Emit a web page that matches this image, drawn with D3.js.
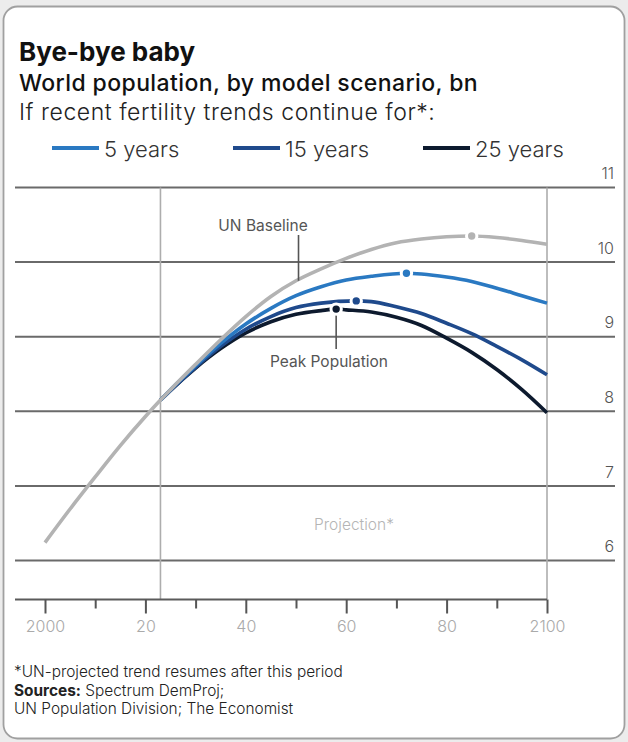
<!DOCTYPE html>
<html>
<head>
<meta charset="utf-8">
<script src="https://cdn.jsdelivr.net/npm/d3@7"></script>
<style>
  html, body { margin: 0; padding: 0; background: #ececec; }
  svg { display: block; font-family: Inter, "Noto Sans", sans-serif; }
</style>
</head>
<body>
<svg id="chart" width="628" height="742"></svg>
<script>
// World population (bn) by scenario
const years = [2000, 2005, 2010, 2015, 2020, 2023, 2025, 2030, 2035, 2040, 2045, 2050, 2055, 2060, 2065, 2070, 2075, 2080, 2085, 2090, 2095, 2100];
const unBaseline = [6.24, 6.69, 7.12, 7.54, 7.93, 8.15, 8.29, 8.63, 8.96, 9.27, 9.54, 9.75, 9.91, 10.05, 10.17, 10.26, 10.31, 10.34, 10.35, 10.33, 10.29, 10.24];

const scenarioYears5 = [2023, 2025, 2030, 2035, 2040, 2045, 2050, 2055, 2060, 2065, 2072, 2075, 2080, 2085, 2090, 2095, 2100];
const years5 = [8.15, 8.29, 8.61, 8.91, 9.17, 9.38, 9.55, 9.67, 9.76, 9.81, 9.85, 9.84, 9.80, 9.74, 9.65, 9.55, 9.45];

const scenarioYears15 = [2023, 2025, 2030, 2035, 2040, 2045, 2050, 2055, 2062, 2065, 2070, 2075, 2080, 2085, 2090, 2095, 2100];
const years15 = [8.15, 8.28, 8.59, 8.87, 9.10, 9.27, 9.39, 9.45, 9.48, 9.47, 9.40, 9.31, 9.18, 9.04, 8.87, 8.69, 8.49];

const scenarioYears25 = [2023, 2025, 2030, 2035, 2040, 2045, 2050, 2055, 2058, 2060, 2065, 2070, 2075, 2080, 2085, 2090, 2095, 2100];
const years25 = [8.15, 8.28, 8.58, 8.84, 9.05, 9.20, 9.30, 9.35, 9.37, 9.36, 9.33, 9.26, 9.15, 8.98, 8.79, 8.56, 8.29, 7.98];

// Peak years and values
const peakYears = [2085, 2072, 2062, 2058];
const peakValues = [10.35, 9.85, 9.48, 9.37];

const yTicks = [6, 7, 8, 9, 10, 11];
const xTicks = [2000, 2010, 2020, 2030, 2040, 2050, 2060, 2070, 2080, 2090, 2100];
const xTickLabels = ["2000", "", "20", "", "40", "", "60", "", "80", "", "2100"];
const legendLabels = ["5 years", "15 years", "25 years"];
const projectionStart = 2023;

const colors = { un: "#b3b3b3", y5: "#2a79c2", y15: "#1f4a8c", y25: "#0d1a2e" };

const svg = d3.select("#chart");

// Card
svg.append("rect")
  .attr("x", 3.5).attr("y", 6.5).attr("width", 621).attr("height", 732)
  .attr("rx", 14).attr("fill", "#fff").attr("stroke", "#a0a0a0").attr("stroke-width", 1.8);

// Titles
svg.append("text").attr("x", 19).attr("y", 61)
  .attr("font-size", 26).attr("font-weight", 700).attr("fill", "#111")
  .text("Bye-bye baby");
svg.append("text").attr("x", 19).attr("y", 90.5)
  .attr("font-size", 23).attr("font-weight", 500).attr("letter-spacing", 0.4).attr("fill", "#111")
  .text("World population, by model scenario, bn");
svg.append("text").attr("x", 19).attr("y", 120)
  .attr("font-size", 23).attr("font-weight", 300).attr("letter-spacing", 0.55).attr("fill", "#222")
  .text("If recent fertility trends continue for*:");

// Legend
const legendX = [52, 233, 423];
const legendColors = [colors.y5, colors.y15, colors.y25];
legendLabels.forEach((lab, i) => {
  svg.append("line")
    .attr("x1", legendX[i]).attr("x2", legendX[i] + 47)
    .attr("y1", 148).attr("y2", 148)
    .attr("stroke", legendColors[i]).attr("stroke-width", 4);
  svg.append("text")
    .attr("x", legendX[i] + 52).attr("y", 157)
    .attr("font-size", 22).attr("font-weight", 300).attr("fill", "#333")
    .text(lab);
});

// Scales
const x = d3.scaleLinear().domain([2000, 2100]).range([45, 547]);
const y = d3.scaleLinear().domain([6, 11]).range([560.5, 187.5]);
const plotBottom = 599.5;
const gridLeft = 15, gridRight = 615;

// Horizontal gridlines with right-side labels
const gy = svg.append("g");
yTicks.forEach(v => {
  gy.append("line")
    .attr("x1", gridLeft).attr("x2", gridRight)
    .attr("y1", y(v)).attr("y2", y(v))
    .attr("stroke", "#6a6a6a").attr("stroke-width", 2);
});
const gridAxis = d3.axisRight(y).tickValues(yTicks).tickSize(0).tickFormat(d3.format("d"));
const gyl = svg.append("g").attr("transform", `translate(${gridRight - 1},0)`).call(gridAxis);
gyl.select(".domain").remove();
gyl.selectAll("text")
  .attr("x", 0).attr("dy", "-0.55em")
  .attr("text-anchor", "end")
  .attr("font-family", "Inter, sans-serif")
  .attr("font-size", 16).attr("font-weight", 300).attr("fill", "#555");

// Vertical marker lines: start of projection and end
[projectionStart, 2100].forEach(yr => {
  svg.append("line")
    .attr("x1", x(yr)).attr("x2", x(yr))
    .attr("y1", y(11)).attr("y2", plotBottom)
    .attr("stroke", "#adadad").attr("stroke-width", 1.6);
});

// Bottom axis
svg.append("line")
  .attr("x1", gridLeft).attr("x2", x(2100))
  .attr("y1", plotBottom).attr("y2", plotBottom)
  .attr("stroke", "#5a5a5a").attr("stroke-width", 2);
const xAxis = d3.axisBottom(x).tickValues(xTicks).tickSize(0).tickFormat((d, i) => xTickLabels[i]);
const gx = svg.append("g").attr("transform", `translate(0,${plotBottom})`).call(xAxis);
gx.select(".domain").remove();
gx.selectAll(".tick").each(function(d, i) {
  d3.select(this).append("line")
    .attr("y1", 0).attr("y2", xTickLabels[i] ? 14 : 9)
    .attr("stroke", "#555").attr("stroke-width", 2);
});
gx.selectAll("text")
  .attr("y", 32).attr("dy", 0)
  .attr("font-family", "Inter, sans-serif")
  .attr("font-size", 16).attr("font-weight", 300).attr("fill", "#aaa");

// Projection label
svg.append("text")
  .attr("x", 354).attr("y", 530)
  .attr("text-anchor", "middle")
  .attr("font-size", 15.5).attr("font-weight", 300).attr("fill", "#b5b5b5")
  .text("Projection*");

// Lines
const line = d3.line().x(d => x(d[0])).y(d => y(d[1])).curve(d3.curveMonotoneX);
const series = [
  { key: "y25", yrs: scenarioYears25, vals: years25, color: colors.y25 },
  { key: "y15", yrs: scenarioYears15, vals: years15, color: colors.y15 },
  { key: "y5", yrs: scenarioYears5, vals: years5, color: colors.y5 },
  { key: "un", yrs: years, vals: unBaseline, color: colors.un }
];
series.forEach(s => {
  svg.append("path")
    .datum(s.yrs.map((yr, i) => [yr, s.vals[i]]))
    .attr("d", line)
    .attr("fill", "none")
    .attr("stroke", s.color)
    .attr("stroke-width", 3.6)
    .attr("stroke-linejoin", "round");
});

// Annotation leaders
svg.append("line")
  .attr("x1", x(2050.5)).attr("x2", x(2050.5))
  .attr("y1", 235).attr("y2", y(9.75))
  .attr("stroke", "#555").attr("stroke-width", 1.6);
svg.append("text")
  .attr("x", 263).attr("y", 231)
  .attr("text-anchor", "middle")
  .attr("font-size", 15.5).attr("font-weight", 400).attr("fill", "#555")
  .text("UN Baseline");

svg.append("line")
  .attr("x1", x(peakYears[3])).attr("x2", x(peakYears[3]))
  .attr("y1", y(peakValues[3])).attr("y2", 349)
  .attr("stroke", "#555").attr("stroke-width", 1.6);
svg.append("text")
  .attr("x", 329).attr("y", 367)
  .attr("text-anchor", "middle")
  .attr("font-size", 15.5).attr("font-weight", 400).attr("fill", "#555")
  .text("Peak Population");

// Peak dots
const dotColors = [colors.un, colors.y5, colors.y15, colors.y25];
peakYears.forEach((yr, i) => {
  svg.append("circle")
    .attr("cx", x(yr)).attr("cy", y(peakValues[i]))
    .attr("r", 5.2)
    .attr("fill", dotColors[i])
    .attr("stroke", "#fff").attr("stroke-width", 3);
});

// Footnotes
const foot = svg.append("g").attr("font-size", 15.4).attr("font-weight", 300).attr("fill", "#222");
foot.append("text").attr("x", 14).attr("y", 677).text("*UN-projected trend resumes after this period");
const src = foot.append("text").attr("x", 14).attr("y", 695.5);
src.append("tspan").attr("font-weight", 700).text("Sources:");
src.append("tspan").text(" Spectrum DemProj;");
foot.append("text").attr("x", 14).attr("y", 713.5).text("UN Population Division; The Economist");
</script>
</body>
</html>
